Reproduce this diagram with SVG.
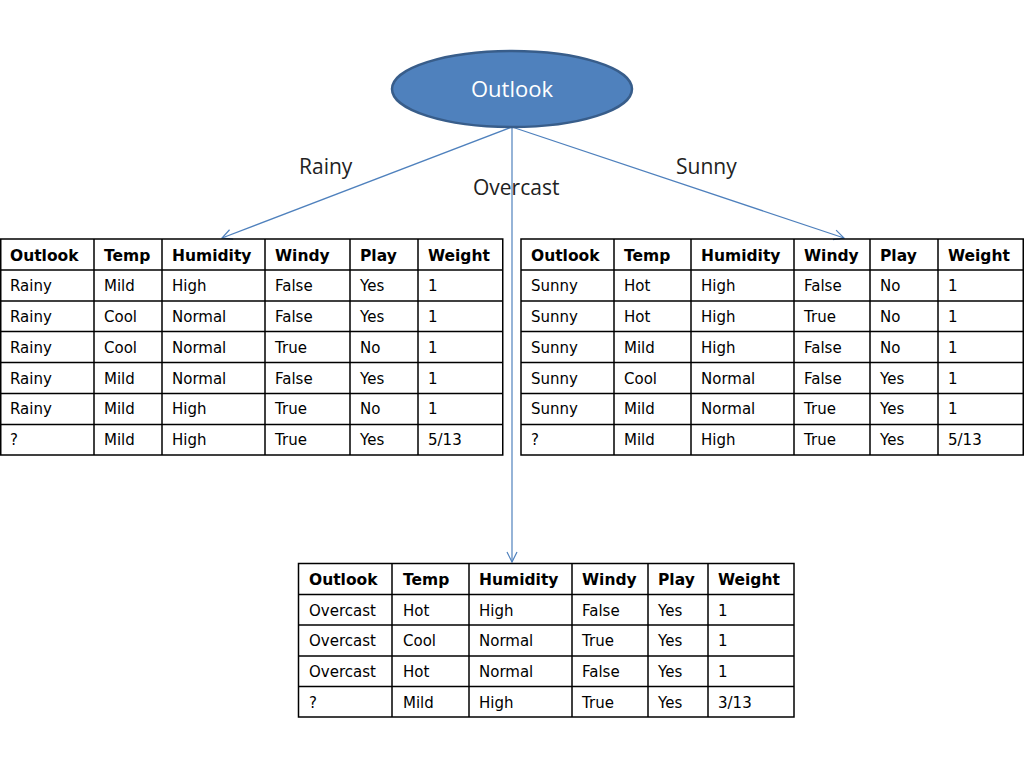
<svg xmlns="http://www.w3.org/2000/svg" width="1024" height="768" viewBox="0 0 1024 768">
<style>
.t{font-family:"DejaVu Sans",Verdana,sans-serif;font-size:15px;fill:#000}
.h{font-weight:bold;font-size:15.5px}
.g line,.g rect{stroke:#000;stroke-width:1.5;fill:none}
.lbl{font-family:"Open Sans","Liberation Sans",sans-serif;font-size:21px;fill:#222}
.c{stroke:#4F81BD;stroke-width:1.2;fill:none}
</style>
<defs>
<marker id="ah" viewBox="0 0 12 12" refX="11" refY="6" markerWidth="12" markerHeight="12" markerUnits="userSpaceOnUse" orient="auto">
<path d="M1,1 L11,6 L1,11" fill="none" stroke="#4F81BD" stroke-width="1.2"/>
</marker>
</defs>
<rect width="1024" height="768" fill="#fff"/>
<g id="connectors">
<line class="c" x1="512" y1="127" x2="222" y2="238" marker-end="url(#ah)"/>
<line class="c" x1="512" y1="127" x2="844" y2="238" marker-end="url(#ah)"/>
<line class="c" x1="512" y1="127" x2="512" y2="562" marker-end="url(#ah)"/>
<text class="lbl" x="299" y="174">Rainy</text>
<text class="lbl" x="676" y="174">Sunny</text>
<text class="lbl" x="473" y="195">Overcast</text>
</g>
<g id="outlook">
<ellipse cx="512" cy="89" rx="120" ry="38" fill="#4F81BD" stroke="#385D8A" stroke-width="2.5"/>
<text x="512" y="97" text-anchor="middle" font-family="Open Sans,Liberation Sans,sans-serif" font-size="22" fill="#fff">Outlook</text>
</g>
<g id="rainy-table" class="g">
<rect x="0.75" y="239" width="502" height="216"/>
<line x1="0" y1="270" x2="503" y2="270"/><line x1="0" y1="301" x2="503" y2="301"/><line x1="0" y1="331.5" x2="503" y2="331.5"/><line x1="0" y1="362.5" x2="503" y2="362.5"/><line x1="0" y1="393.5" x2="503" y2="393.5"/><line x1="0" y1="424.5" x2="503" y2="424.5"/>
<line x1="94" y1="239" x2="94" y2="455"/><line x1="162" y1="239" x2="162" y2="455"/><line x1="265" y1="239" x2="265" y2="455"/><line x1="350" y1="239" x2="350" y2="455"/><line x1="418" y1="239" x2="418" y2="455"/>
<g class="t">
<text class="h" x="10" y="261">Outlook</text><text class="h" x="104" y="261">Temp</text><text class="h" x="172" y="261">Humidity</text><text class="h" x="275" y="261">Windy</text><text class="h" x="360" y="261">Play</text><text class="h" x="428" y="261">Weight</text>
<text x="10" y="291">Rainy</text><text x="104" y="291">Mild</text><text x="172" y="291">High</text><text x="275" y="291">False</text><text x="360" y="291">Yes</text><text x="428" y="291">1</text>
<text x="10" y="322">Rainy</text><text x="104" y="322">Cool</text><text x="172" y="322">Normal</text><text x="275" y="322">False</text><text x="360" y="322">Yes</text><text x="428" y="322">1</text>
<text x="10" y="353">Rainy</text><text x="104" y="353">Cool</text><text x="172" y="353">Normal</text><text x="275" y="353">True</text><text x="360" y="353">No</text><text x="428" y="353">1</text>
<text x="10" y="384">Rainy</text><text x="104" y="384">Mild</text><text x="172" y="384">Normal</text><text x="275" y="384">False</text><text x="360" y="384">Yes</text><text x="428" y="384">1</text>
<text x="10" y="414">Rainy</text><text x="104" y="414">Mild</text><text x="172" y="414">High</text><text x="275" y="414">True</text><text x="360" y="414">No</text><text x="428" y="414">1</text>
<text x="10" y="445">?</text><text x="104" y="445">Mild</text><text x="172" y="445">High</text><text x="275" y="445">True</text><text x="360" y="445">Yes</text><text x="428" y="445">5/13</text>
</g>
</g>
<g id="sunny-table" class="g">
<rect x="521" y="239" width="502.25" height="216"/>
<line x1="521" y1="270" x2="1024" y2="270"/><line x1="521" y1="301" x2="1024" y2="301"/><line x1="521" y1="331.5" x2="1024" y2="331.5"/><line x1="521" y1="362.5" x2="1024" y2="362.5"/><line x1="521" y1="393.5" x2="1024" y2="393.5"/><line x1="521" y1="424.5" x2="1024" y2="424.5"/>
<line x1="614" y1="239" x2="614" y2="455"/><line x1="691" y1="239" x2="691" y2="455"/><line x1="794" y1="239" x2="794" y2="455"/><line x1="870" y1="239" x2="870" y2="455"/><line x1="938" y1="239" x2="938" y2="455"/>
<g class="t">
<text class="h" x="531" y="261">Outlook</text><text class="h" x="624" y="261">Temp</text><text class="h" x="701" y="261">Humidity</text><text class="h" x="804" y="261">Windy</text><text class="h" x="880" y="261">Play</text><text class="h" x="948" y="261">Weight</text>
<text x="531" y="291">Sunny</text><text x="624" y="291">Hot</text><text x="701" y="291">High</text><text x="804" y="291">False</text><text x="880" y="291">No</text><text x="948" y="291">1</text>
<text x="531" y="322">Sunny</text><text x="624" y="322">Hot</text><text x="701" y="322">High</text><text x="804" y="322">True</text><text x="880" y="322">No</text><text x="948" y="322">1</text>
<text x="531" y="353">Sunny</text><text x="624" y="353">Mild</text><text x="701" y="353">High</text><text x="804" y="353">False</text><text x="880" y="353">No</text><text x="948" y="353">1</text>
<text x="531" y="384">Sunny</text><text x="624" y="384">Cool</text><text x="701" y="384">Normal</text><text x="804" y="384">False</text><text x="880" y="384">Yes</text><text x="948" y="384">1</text>
<text x="531" y="414">Sunny</text><text x="624" y="414">Mild</text><text x="701" y="414">Normal</text><text x="804" y="414">True</text><text x="880" y="414">Yes</text><text x="948" y="414">1</text>
<text x="531" y="445">?</text><text x="624" y="445">Mild</text><text x="701" y="445">High</text><text x="804" y="445">True</text><text x="880" y="445">Yes</text><text x="948" y="445">5/13</text>
</g>
</g>
<g id="overcast-table" class="g">
<rect x="298.5" y="563.5" width="495.5" height="153.5"/>
<line x1="298" y1="594.5" x2="794" y2="594.5"/><line x1="298" y1="625" x2="794" y2="625"/><line x1="298" y1="656" x2="794" y2="656"/><line x1="298" y1="686.5" x2="794" y2="686.5"/>
<line x1="392" y1="563" x2="392" y2="717"/><line x1="469" y1="563" x2="469" y2="717"/><line x1="572" y1="563" x2="572" y2="717"/><line x1="648" y1="563" x2="648" y2="717"/><line x1="708" y1="563" x2="708" y2="717"/>
<g class="t">
<text class="h" x="309" y="585">Outlook</text><text class="h" x="403" y="585">Temp</text><text class="h" x="479" y="585">Humidity</text><text class="h" x="582" y="585">Windy</text><text class="h" x="658" y="585">Play</text><text class="h" x="718" y="585">Weight</text>
<text x="309" y="616">Overcast</text><text x="403" y="616">Hot</text><text x="479" y="616">High</text><text x="582" y="616">False</text><text x="658" y="616">Yes</text><text x="718" y="616">1</text>
<text x="309" y="646">Overcast</text><text x="403" y="646">Cool</text><text x="479" y="646">Normal</text><text x="582" y="646">True</text><text x="658" y="646">Yes</text><text x="718" y="646">1</text>
<text x="309" y="677">Overcast</text><text x="403" y="677">Hot</text><text x="479" y="677">Normal</text><text x="582" y="677">False</text><text x="658" y="677">Yes</text><text x="718" y="677">1</text>
<text x="309" y="708">?</text><text x="403" y="708">Mild</text><text x="479" y="708">High</text><text x="582" y="708">True</text><text x="658" y="708">Yes</text><text x="718" y="708">3/13</text>
</g>
</g>
</svg>
